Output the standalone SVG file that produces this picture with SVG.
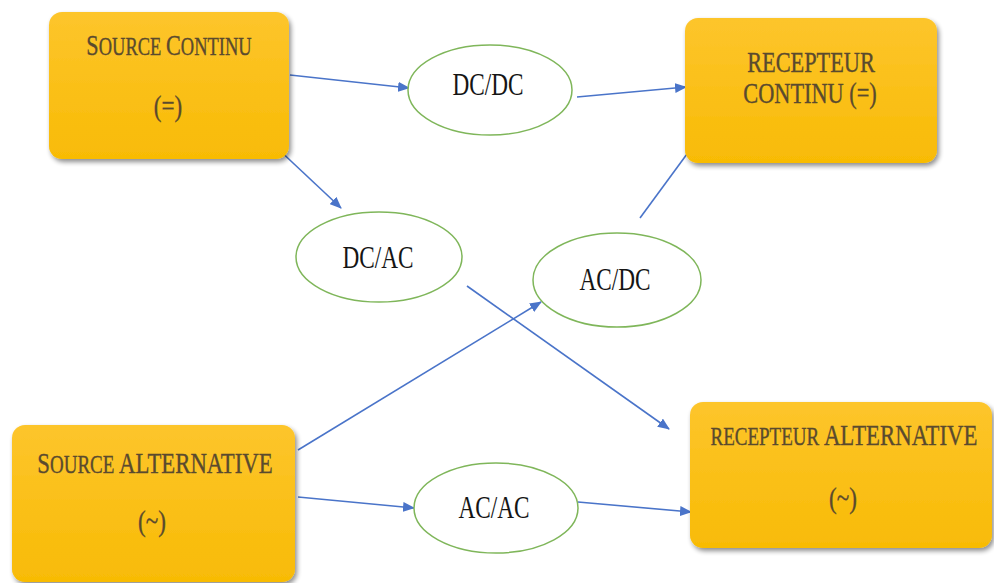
<svg xmlns="http://www.w3.org/2000/svg" width="994" height="583" viewBox="0 0 994 583">
<style>
.box{fill:url(#g);filter:url(#sh)}
.bt{font-family:"Liberation Serif",serif;fill:#5a4a2e;stroke:#5a4a2e;stroke-width:0.35;text-anchor:middle}
.el{fill:#fff;stroke:#7fb65a;stroke-width:1.5}
.et{font-family:"Liberation Serif",serif;fill:#151515;font-size:31px;text-anchor:middle}
.c{stroke:#4a74c9;stroke-width:1.6;fill:none;marker-end:url(#ah)}
</style>
<defs>
<linearGradient id="g" x1="0" y1="0" x2="0" y2="1">
<stop offset="0" stop-color="#fdc52c"/>
<stop offset="1" stop-color="#f8bb05"/>
</linearGradient>
<filter id="sh" x="-10%" y="-10%" width="125%" height="125%">
<feGaussianBlur in="SourceAlpha" stdDeviation="2.5"/>
<feOffset dx="2" dy="3" result="b"/>
<feComponentTransfer><feFuncA type="linear" slope="0.45"/></feComponentTransfer>
<feMerge><feMergeNode/><feMergeNode in="SourceGraphic"/></feMerge>
</filter>
<marker id="ah" markerWidth="12" markerHeight="10" refX="11" refY="5" orient="auto" markerUnits="userSpaceOnUse">
<path d="M0,0 L12,5 L0,10 Z" fill="#4a74c9"/>
</marker>
</defs>
<rect width="994" height="583" fill="#fff"/>
<g id="connectors">
<line class="c" x1="290" y1="75" x2="409" y2="88"/>
<line class="c" x1="577" y1="97" x2="686" y2="87"/>
<line class="c" x1="276" y1="147" x2="341" y2="208"/>
<line class="c" x1="640" y1="218" x2="698" y2="139"/>
<line class="c" x1="467" y1="286" x2="669" y2="429"/>
<line class="c" x1="298" y1="450" x2="541" y2="302"/>
<line class="c" x1="298" y1="497" x2="414" y2="508"/>
<line class="c" x1="578" y1="502" x2="691" y2="512"/>
</g>
<g id="source-continu">
<rect class="box" x="49" y="12" width="240" height="147" rx="13"/>
<text class="bt" transform="translate(169,55) scale(0.74,1)"><tspan font-size="30">S</tspan><tspan font-size="25">OURCE </tspan><tspan font-size="30">C</tspan><tspan font-size="25">ONTINU</tspan></text>
<text class="bt" font-size="30" transform="translate(168,116) scale(0.77,1)">(=)</text>
</g>
<g id="recepteur-continu">
<rect class="box" x="685" y="18" width="252" height="145" rx="13"/>
<text class="bt" font-size="29" transform="translate(811,72) scale(0.77,1)">RECEPTEUR</text>
<text class="bt" font-size="29" transform="translate(810,103) scale(0.77,1)">CONTINU (=)</text>
</g>
<g id="source-alternative">
<rect class="box" x="12" y="425" width="283" height="157" rx="13"/>
<text class="bt" transform="translate(155,473) scale(0.76,1)"><tspan font-size="30">S</tspan><tspan font-size="25">OURCE </tspan><tspan font-size="30">ALTERNATIVE</tspan></text>
<text class="bt" font-size="30" transform="translate(152,531) scale(0.77,1)">(~)</text>
</g>
<g id="recepteur-alternative">
<rect class="box" x="690" y="402" width="302" height="146" rx="13"/>
<text class="bt" transform="translate(844,445) scale(0.76,1)"><tspan font-size="25">RECEPTEUR </tspan><tspan font-size="30">ALTERNATIVE</tspan></text>
<text class="bt" font-size="30" transform="translate(843,508) scale(0.77,1)">(~)</text>
</g>
<g id="dcdc">
<ellipse class="el" cx="490" cy="90" rx="82" ry="45"/>
<text class="et" transform="translate(488,95) scale(0.75,1)">DC/DC</text>
</g>
<g id="dcac">
<ellipse class="el" cx="379" cy="257" rx="83" ry="45"/>
<text class="et" transform="translate(378,268) scale(0.75,1)">DC/AC</text>
</g>
<g id="acdc">
<ellipse class="el" cx="617" cy="280" rx="84" ry="47"/>
<text class="et" transform="translate(615,290) scale(0.75,1)">AC/DC</text>
</g>
<g id="acac">
<ellipse class="el" cx="496" cy="508" rx="82" ry="45"/>
<text class="et" transform="translate(494,518) scale(0.75,1)">AC/AC</text>
</g>
</svg>
